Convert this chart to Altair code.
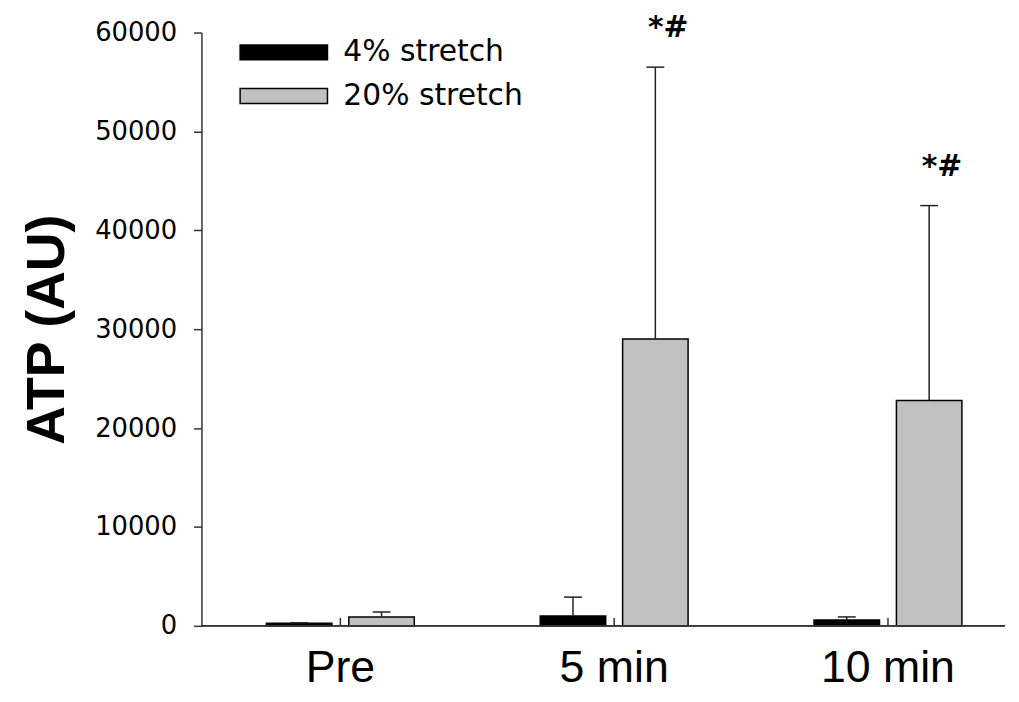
import altair as alt
import pandas as pd

times = ["Pre", "5 min", "10 min"]
groups = ["4% stretch", "20% stretch"]
mean_4 = [250, 1000, 600]
upper_4 = [300, 2900, 900]
mean_20 = [900, 29000, 22800]
upper_20 = [1400, 56500, 42500]
marks_20 = ["", "*#", "*#"]
y_ticks = [0, 10000, 20000, 30000, 40000, 50000, 60000]

rows = []
for i, t in enumerate(times):
    rows.append(dict(Time=t, Group=groups[0], Mean=mean_4[i], Upper=upper_4[i], Mark=""))
    rows.append(dict(Time=t, Group=groups[1], Mean=mean_20[i], Upper=upper_20[i], Mark=marks_20[i]))
df = pd.DataFrame(rows)
cats = pd.DataFrame({"Time": times})

W, H = 810, 598
AX = "#333333"

xs = alt.X("Time:N", sort=times,
           scale=alt.Scale(range=[65.5, 766.5], paddingInner=0.46, paddingOuter=0),
           axis=alt.Axis(title=None, domain=False, ticks=False, labelAngle=0,
                         labelFont="Liberation Sans", labelFontSize=45,
                         labelColor="black", labelPadding=20))
xo = alt.XOffset("Group:N", sort=groups,
                 scale=alt.Scale(paddingInner=0.205, paddingOuter=0))

ys = alt.Y("Mean:Q", scale=alt.Scale(domain=[0, 60000], nice=False),
           axis=alt.Axis(title="ATP (AU)", values=y_ticks, format="d", grid=False,
                         tickSize=8, tickColor=AX, tickWidth=1.5,
                         domainColor=AX, domainWidth=1.5,
                         labelFont="DejaVu Sans", labelFontSize=26, labelColor="black",
                         labelPadding=17,
                         titleFont="Liberation Sans", titleFontSize=54,
                         titleFontWeight="bold", titleColor="black",
                         titleAngle=270, titleX=-139, titleY=H / 2,
                         titleAlign="center", titleBaseline="alphabetic"))

color = alt.Color("Group:N", sort=groups,
                  scale=alt.Scale(domain=groups, range=["#000000", "#c0c0c0"]),
                  legend=alt.Legend(title=None, orient="none", legendX=68, legendY=5,
                                    symbolType="M-5.87,-1H5.87V1H-5.87Z", symbolSize=225,
                                    symbolStrokeColor="black", symbolStrokeWidth=1.5,
                                    symbolOpacity=1, labelLimit=0,
                                    labelFont="DejaVu Sans", labelFontSize=30,
                                    labelColor="black", labelOffset=45, rowPadding=14))

base = alt.Chart(df)

bars = base.mark_bar(stroke="black", strokeWidth=1.5, opacity=1).encode(
    x=xs, xOffset=xo, y=ys, color=color)

err = base.mark_rule(color="#222222", strokeWidth=1.5).encode(
    x=xs, xOffset=xo, y="Mean:Q", y2="Upper:Q")

caps = base.mark_tick(color="#222222", thickness=1.5, size=18, opacity=1).encode(
    x=xs, xOffset=xo, y="Upper:Q")

labels = base.mark_text(font="DejaVu Sans", fontSize=30, fontWeight="bold",
                        dy=-39, dx=13, color="black").encode(
    x=xs, xOffset=xo, y="Upper:Q", text="Mark:N")

baseline = alt.Chart(cats).mark_rule(color=AX, strokeWidth=1.5).encode(y=alt.datum(0))

xticks = alt.Chart(cats).mark_rule(color=AX, strokeWidth=1.5).encode(
    x=xs, y=alt.value(H), y2=alt.value(H - 8))

chart = alt.layer(bars, err, caps, labels, baseline, xticks).properties(
    width=W, height=H,
    autosize=alt.AutoSizeParams(type="none"),
    padding={"left": 195, "top": 22, "right": 6, "bottom": 70},
).configure_view(stroke=None)

chart.save("out.html", embed_options={"renderer": "svg", "actions": False})
